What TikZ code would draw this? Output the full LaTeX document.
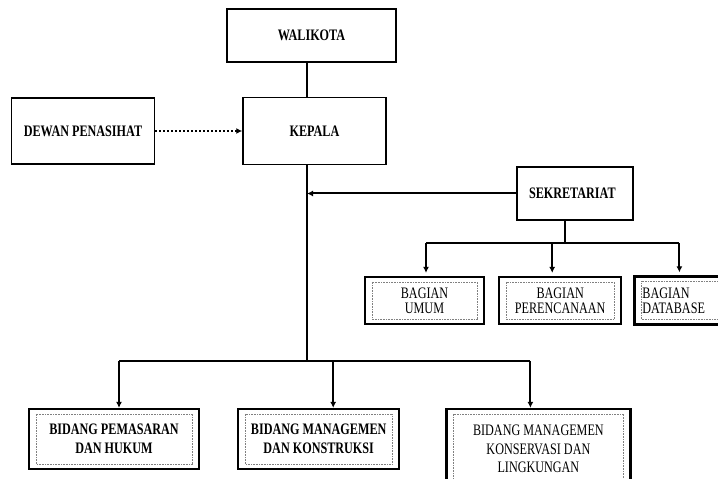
\documentclass[tikz,border=0pt]{standalone}
\usepackage{fontspec}
\setmainfont{Liberation Serif}[FakeStretch=0.76]
\usetikzlibrary{positioning, arrows.meta}

\begin{document}
\begin{tikzpicture}[x=1pt, y=1pt,
    kotak/.style={rectangle, draw, line width=1.5pt, inner sep=0pt, font=\fontsize{16}{17}\selectfont\bfseries},
    unit/.style={rectangle, draw, line width=2.2pt, inner sep=0pt, align=center, font=\fontsize{16}{15}\selectfont},
    bidang/.style={unit, font=\fontsize{16}{18.5}\selectfont},
    dalam/.style={draw=gray, line width=0.6pt, densely dotted},
    garis/.style={line width=2pt},
    panah/.style={line width=2pt, -{Latex[length=6pt, width=6pt]}}]
    \useasboundingbox (0,0) rectangle (718,479);
    \clip (0,0) rectangle (718,479);

    % Pimpinan
    \node[kotak, minimum width=169pt, minimum height=53pt] (walikota) at (311.5,443.5) {WALIKOTA};
    \node[kotak, below=34pt of walikota, xshift=3pt, minimum width=143pt, minimum height=67pt] (kepala) {KEPALA};
    \node[kotak, left=87pt of kepala, minimum width=143pt, minimum height=66pt] (dewan) {DEWAN PENASIHAT};

    % Sekretariat dan bagian
    \node[kotak, text width=92pt, align=left, inner xsep=12pt, minimum height=53pt] (sekretariat) at (575,285.5) {SEKRETARIAT};
    \node[unit, minimum width=119pt, minimum height=47pt] (umum) at (424.5,178.5) {BAGIAN\\UMUM};
    \node[unit, right=13pt of umum, minimum width=122pt, minimum height=47pt] (perencanaan) {BAGIAN\\PERENCANAAN};
    \node[unit, right=11pt of perencanaan, minimum height=48pt, text width=84pt, align=left, inner xsep=8pt] (database) {BAGIAN\\DATABASE};

    % Bidang
    \node[bidang, font=\fontsize{16}{18.5}\selectfont\bfseries, minimum width=170pt, minimum height=60pt] (pemasaran) at (114,40) {BIDANG PEMASARAN\\DAN HUKUM};
    \node[bidang, font=\fontsize{16}{18.5}\selectfont\bfseries, right=37pt of pemasaran, minimum width=161pt, minimum height=60pt] (konstruksi) {BIDANG MANAGEMEN\\DAN KONSTRUKSI};
    \node[bidang, right=45pt of konstruksi.north east, anchor=north west, minimum width=184pt, minimum height=80pt] (konservasi) {BIDANG MANAGEMEN\\KONSERVASI DAN\\LINGKUNGAN};

    % Garis dalam
    \foreach \n in {umum, perencanaan, database, pemasaran, konstruksi, konservasi}
        \draw[dalam] ([shift={(8pt,-6pt)}]\n.north west) rectangle ([shift={(-8pt,6pt)}]\n.south east);

    % Hubungan
    \coordinate (batang) at (307,118);
    \coordinate (cabang) at (565,236);
    \draw[garis] (walikota.south -| batang) -- (kepala.north -| batang);
    \draw[garis] (kepala.south -| batang) -- (batang);
    \draw[panah, dash pattern=on 2pt off 2pt, line width=2.2pt] (dewan) -- (kepala);
    \draw[panah] (sekretariat.west) -- (sekretariat.west -| batang);

    \draw[garis] (sekretariat.south -| cabang) -- (cabang);
    \draw[garis] ([xshift=1.5pt]umum.north |- cabang) -- ([xshift=-5pt]database.north |- cabang);
    \foreach \n/\dx in {umum/1.5, perencanaan/-8, database/-5}
        \draw[panah, shorten >=3pt] ([xshift=\dx pt]\n.north |- cabang) -- ([xshift=\dx pt]\n.north);

    \draw[garis] ([xshift=5pt]pemasaran.north |- batang) -- ([xshift=-8pt]konservasi.north |- batang);
    \foreach \n/\dx in {pemasaran/5, konstruksi/14.5, konservasi/-8}
        \draw[panah] ([xshift=\dx pt]\n.north |- batang) -- ([xshift=\dx pt]\n.north);
\end{tikzpicture}
\end{document}
